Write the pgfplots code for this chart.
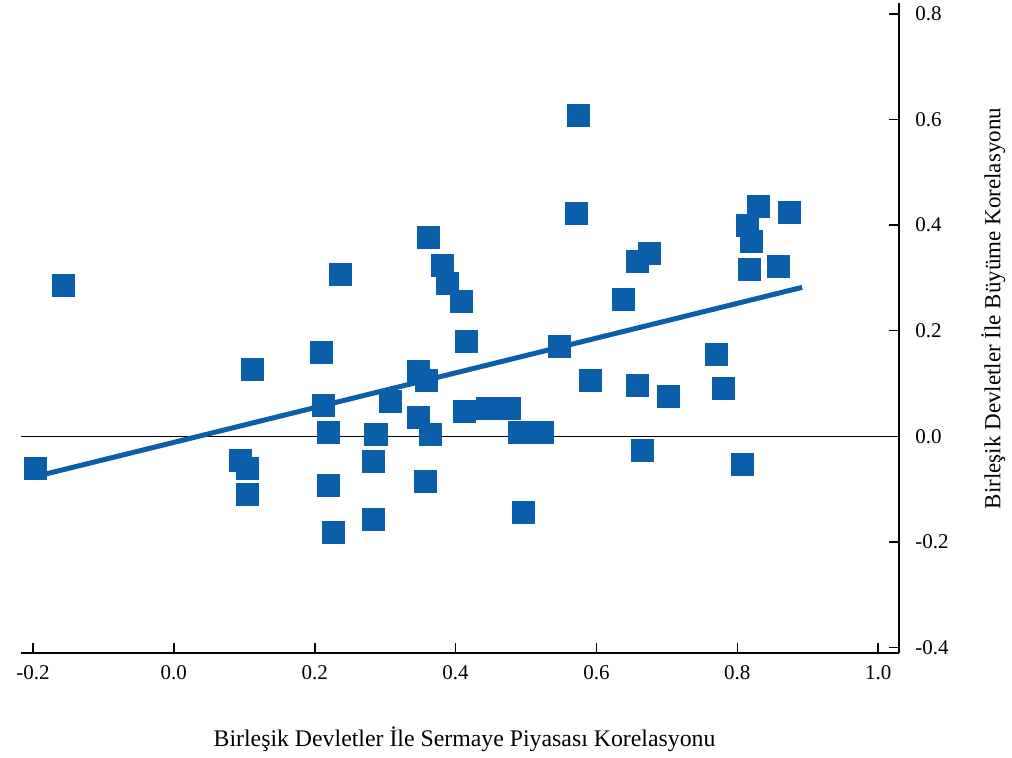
\documentclass[border=0pt]{standalone}
\usepackage{fontspec}
\setmainfont{Liberation Serif}
\usepackage{pgfplots}
\pgfplotsset{compat=1.18}
\definecolor{sq}{RGB}{10,94,170}
\begin{document}
\begin{tikzpicture}
\begin{axis}[
  scale only axis, width=439pt, height=324.7pt,
  xmin=-0.217, xmax=1.03, ymin=-0.41, ymax=0.82,
  axis x line*=bottom, axis y line*=right,
  axis line style={line width=1pt, -},
  xtick={-0.2,0,0.2,0.4,0.6,0.8,1.0},
  xticklabels={-0.2,0.0,0.2,0.4,0.6,0.8,1.0},
  ytick={-0.4,-0.2,0,0.2,0.4,0.6,0.8},
  yticklabels={-0.4,-0.2,0.0,0.2,0.4,0.6,0.8},
  tick align=inside, major tick length=5pt,
  tick style={line width=0.8pt, black},
  ticklabel style={font=\fontsize{10.5}{12}\selectfont},
  xticklabel style={yshift=-3pt},
  yticklabel style={xshift=4.5pt},
  xlabel={Birleşik Devletler İle Sermaye Piyasası Korelasyonu},
  ylabel={Birleşik Devletler İle Büyüme Korelasyonu},
  every axis x label/.style={at={([yshift=-43pt]axis description cs:0.505,0)}, anchor=center, font=\fontsize{11.9}{14}\selectfont},
  every axis y label/.style={at={([xshift=47pt]axis description cs:1,0.53)}, anchor=center, rotate=90, font=\fontsize{11.5}{14}\selectfont},
  clip=false,
]
\addplot[black, line width=0.8pt] coordinates {(-0.217,0) (1.03,0)};
\addplot[sq, line width=2.5pt] coordinates {(-0.196,-0.076) (0.892,0.282)};
\addplot[only marks, color=sq, mark=square*, mark size=5.5pt, mark options={fill=sq, draw=sq, line width=0pt}] coordinates {
(-0.196,-0.061) (-0.156,0.286) (0.095,-0.045) (0.105,-0.061) (0.104,-0.110)
(0.111,0.127) (0.209,0.159) (0.213,0.059) (0.219,0.008) (0.219,-0.093)
(0.227,-0.182) (0.236,0.307) (0.283,-0.047) (0.287,0.004) (0.283,-0.157)
(0.307,0.066) (0.348,0.123) (0.358,0.106) (0.348,0.036) (0.364,0.004)
(0.357,-0.085) (0.361,0.377) (0.381,0.324) (0.389,0.290) (0.409,0.256)
(0.415,0.180) (0.412,0.047) (0.446,0.053) (0.477,0.053) (0.491,0.008)
(0.523,0.008) (0.497,-0.144) (0.548,0.170) (0.574,0.608) (0.572,0.422)
(0.591,0.106) (0.639,0.259) (0.658,0.331) (0.676,0.347) (0.658,0.097)
(0.666,-0.027) (0.702,0.076) (0.771,0.155) (0.781,0.091) (0.807,-0.053)
(0.830,0.436) (0.814,0.400) (0.820,0.369) (0.817,0.316) (0.858,0.322)
(0.874,0.424)
};
\end{axis}
\path ([xshift=-10.5pt]current axis.south west) -- ([xshift=-10.5pt]current axis.north west);
\end{tikzpicture}
\end{document}
